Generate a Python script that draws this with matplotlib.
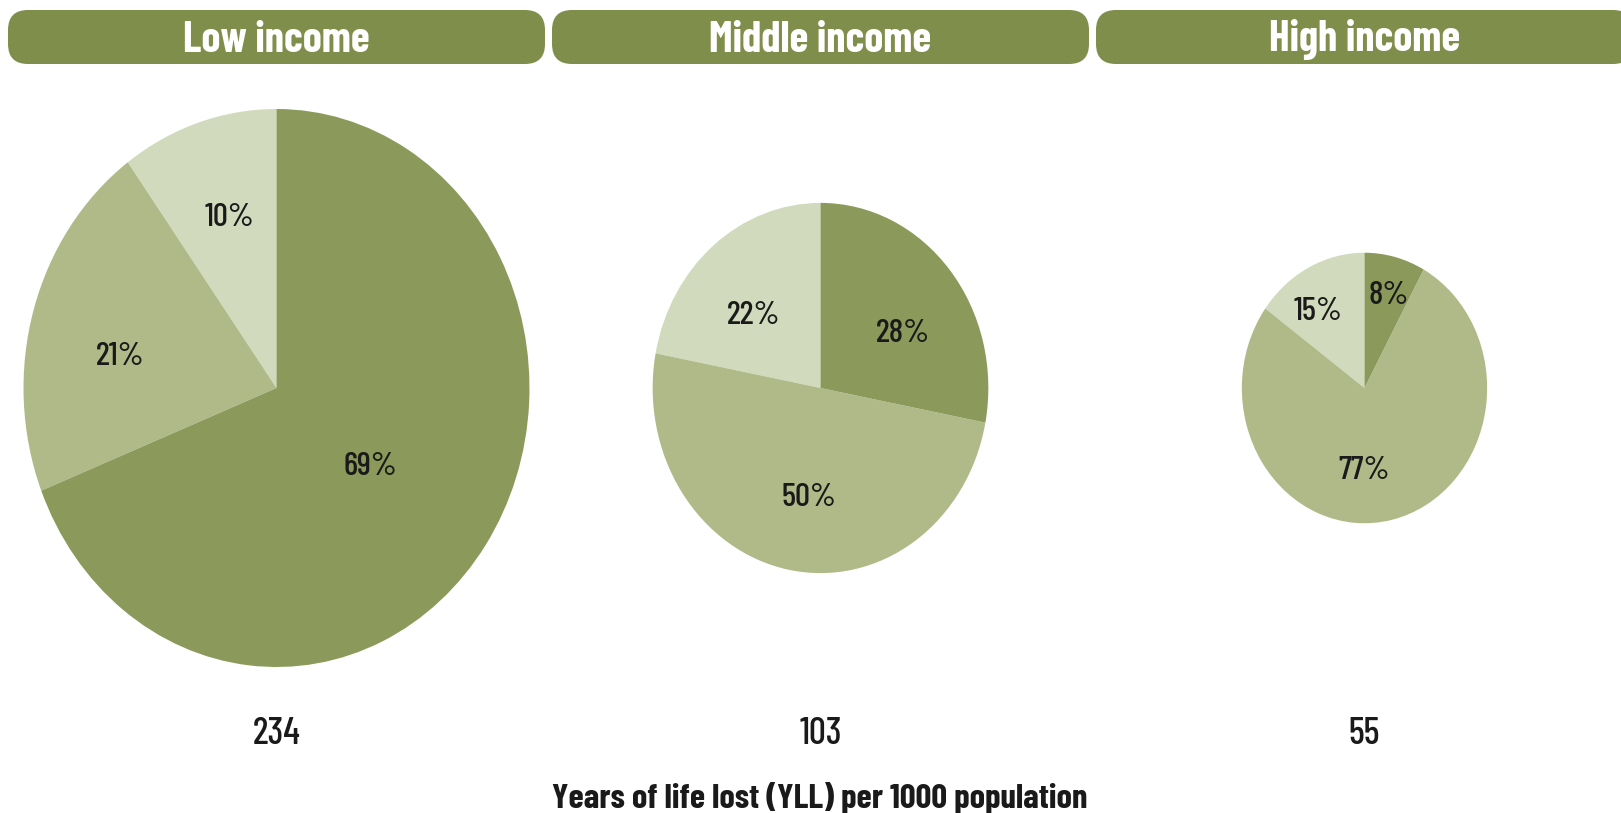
"""YLL pies by income group"""

import numpy as np
import matplotlib.pyplot as plt
from matplotlib.patches import FancyBboxPatch

plt.rcParams['font.family'] = ['Barlow Condensed', 'DejaVu Sans']

groups = ['Low income', 'Middle income', 'High income']
yll = [234, 103, 55]
# shares per group, in drawing order: light, medium, dark
shares = [
    [10, 21, 69],
    [22, 50, 28],
    [15, 77, 8],
]

colors = ['#d1dabc', '#b0ba89', '#8b9a5a']
header_color = '#7f8e4a'
# label placement: distance from centre (fraction of radius), angle nudge (deg)
label_dist = [
    [0.65, 0.63, 0.46],
    [0.57, 0.58, 0.58],
    [0.70, 0.59, 0.73],
]
label_nudge = [
    [-1.5, 5, -2],
    [5, 4, -7],
    [6, -12.6, -1],
]

W, H = 1621, 813
fig = plt.figure(figsize=(W / 100, H / 100), dpi=100)

bg = fig.add_axes([0, 0, 1, 1])
bg.set_xlim(0, W)
bg.set_ylim(H, 0)
bg.axis('off')

x0, step, box_w = 8, 544, 537
cy = 388
rx_max, ry_max = 253, 279

for i, name in enumerate(groups):
    left = x0 + i * step
    cx = left + box_w / 2
    box = FancyBboxPatch((left, 10), box_w, 54,
                         boxstyle='round,pad=0,rounding_size=20',
                         fc=header_color, ec='none')
    bg.add_patch(box)
    bg.text(cx, 40, name, color='white', fontsize=31, fontweight='bold',
            ha='center', va='center')
    bg.text(cx, 734, str(yll[i]), color='#1a1a1a', fontsize=27,
            fontweight='medium', ha='center', va='center')

    # radius scaled so that area follows the YLL value
    k = np.sqrt(yll[i] / max(yll))
    rx, ry = rx_max * k, ry_max * k
    ax = fig.add_axes([(cx - rx) / W, 1 - (cy + ry) / H, 2 * rx / W, 2 * ry / H])
    wedges, _ = ax.pie(shares[i], colors=colors, startangle=90,
                       counterclock=True, radius=1,
                       wedgeprops=dict(linewidth=0))
    ax.set_aspect('auto')
    ax.set_xlim(-1, 1)
    ax.set_ylim(-1, 1)
    ax.axis('off')
    for j, w in enumerate(wedges):
        mid = np.deg2rad((w.theta1 + w.theta2) / 2 + label_nudge[i][j])
        d = label_dist[i][j]
        ax.text(d * np.cos(mid), d * np.sin(mid), f'{shares[i][j]}%',
                fontsize=24, fontweight='medium', color='#1a1a1a',
                ha='center', va='center_baseline')

bg.text(820, 798, 'Years of life lost (YLL) per 1000 population',
        fontsize=25, fontweight='bold', color='#1a1a1a',
        ha='center', va='center')

fig.savefig('out.png', dpi=100)
